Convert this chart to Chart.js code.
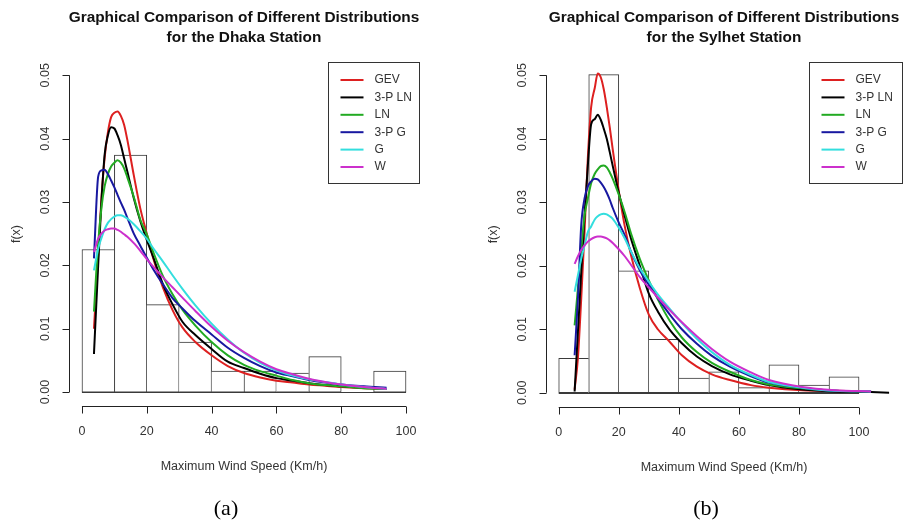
<!DOCTYPE html>
<html><head><meta charset="utf-8">
<script src="https://cdn.jsdelivr.net/npm/chart.js@4.4.1/dist/chart.umd.min.js"></script>
<style>
html,body{margin:0;padding:0;background:#fff;width:903px;height:525px;overflow:hidden}
canvas{position:absolute;top:0}
#c1{left:0}
#c2{left:450px}
</style></head>
<body>
<canvas id="c1" width="450" height="525"></canvas>
<canvas id="c2" width="453" height="525"></canvas>
<script>
// ---- data ----
const seriesNames = ['GEV', '3-P LN', 'LN', '3-P G', 'G', 'W'];
const binMids = [5, 15, 25, 35, 45, 55, 65, 75, 85, 95];
const xTicks = [0, 20, 40, 60, 80, 100];
const yTicks = [0, 0.01, 0.02, 0.03, 0.04, 0.05];
const yTickLabels = ['0.00', '0.01', '0.02', '0.03', '0.04', '0.05'];

// Dhaka station
const dhakaDensity = [0.0225, 0.0374, 0.0138, 0.0079, 0.0033, 0.0033, 0.0030, 0.0056, 0, 0.0033];
const dhakaX   = [3.7, 5, 6, 7, 8, 9, 10, 11, 12, 13, 14, 16, 18, 20, 22, 25, 28, 31, 35, 40, 45, 50, 55, 60, 65, 70, 75, 80, 87, 94];
const dhakaGEV = [0.0100, 0.0216, 0.0305, 0.0370, 0.0410, 0.0434, 0.0441, 0.0443, 0.0436, 0.0422, 0.0398, 0.0342, 0.0290, 0.0250, 0.0211, 0.0165, 0.0129, 0.0102, 0.0079, 0.0058, 0.0041, 0.0030, 0.0023, 0.0018, 0.0015, 0.0012, 0.0010, 0.0008, 0.0006, 0.0005];
const dhakaLN3 = [0.0060, 0.0200, 0.0300, 0.0375, 0.0405, 0.0418, 0.0416, 0.0405, 0.0390, 0.0369, 0.0348, 0.0306, 0.0270, 0.0240, 0.0213, 0.0170, 0.0138, 0.0111, 0.0090, 0.0068, 0.0048, 0.0038, 0.0029, 0.0022, 0.0018, 0.0014, 0.0011, 0.0009, 0.0007, 0.0005];
const dhakaLN  = [0.0127, 0.0235, 0.0290, 0.0325, 0.0344, 0.0356, 0.0362, 0.0366, 0.0362, 0.0353, 0.0339, 0.0308, 0.0272, 0.0249, 0.0221, 0.0183, 0.0154, 0.0130, 0.0105, 0.0079, 0.0058, 0.0043, 0.0033, 0.0026, 0.0019, 0.0014, 0.0011, 0.0009, 0.0006, 0.0005];
const dhakaG3  = [0.0211, 0.0340, 0.0350, 0.0351, 0.0344, 0.0334, 0.0323, 0.0311, 0.0299, 0.0288, 0.0275, 0.0250, 0.0231, 0.0212, 0.0194, 0.0170, 0.0148, 0.0132, 0.0112, 0.0091, 0.0070, 0.0054, 0.0041, 0.0031, 0.0025, 0.0019, 0.0015, 0.0012, 0.0009, 0.0007];
const dhakaG   = [0.0192, 0.0226, 0.0243, 0.0257, 0.0267, 0.0273, 0.0277, 0.0279, 0.0279, 0.0277, 0.0274, 0.0265, 0.0254, 0.0242, 0.0227, 0.0206, 0.0184, 0.0163, 0.0137, 0.0108, 0.0083, 0.0062, 0.0046, 0.0034, 0.0026, 0.0020, 0.0016, 0.0012, 0.0008, 0.0005];
const dhakaW   = [0.0221, 0.0242, 0.0250, 0.0255, 0.0257, 0.0258, 0.0258, 0.0256, 0.0253, 0.0249, 0.0245, 0.0235, 0.0223, 0.0210, 0.0198, 0.0181, 0.0165, 0.0149, 0.0128, 0.0103, 0.0081, 0.0063, 0.0048, 0.0036, 0.0028, 0.0021, 0.0016, 0.0012, 0.0008, 0.0005];

// Sylhet station
const sylhetDensity = [0.0054, 0.0501, 0.0192, 0.0084, 0.0023, 0.0033, 0.0008, 0.0044, 0.0012, 0.0025];
const sylhetX   = [5.3, 6.4, 7.5, 8.6, 9.7, 10.8, 12, 13, 14, 15, 16, 17, 18, 20, 22, 24, 27, 30, 33, 37, 41, 46, 51, 57, 64, 70, 81, 92, 104, 110];
const sylhetGEV = [0.0005, 0.0055, 0.0148, 0.0253, 0.0370, 0.0450, 0.0480, 0.0503, 0.0497, 0.0478, 0.0450, 0.0418, 0.0383, 0.0318, 0.0262, 0.0218, 0.0165, 0.0123, 0.0100, 0.0080, 0.0059, 0.0041, 0.0029, 0.0020, 0.0012, 0.0008, 0.0004, 0.0003, 0.0002, null];
const sylhetLN3 = [0.0002, 0.0096, 0.0190, 0.0279, 0.0358, 0.0423, 0.0431, 0.0438, 0.0430, 0.0416, 0.0400, 0.0379, 0.0357, 0.0315, 0.0278, 0.0244, 0.0200, 0.0156, 0.0128, 0.0099, 0.0078, 0.0057, 0.0042, 0.0029, 0.0019, 0.0012, 0.0005, 0.0002, 0.0001, 0.0000];
const sylhetLN  = [0.0106, 0.0165, 0.0225, 0.0279, 0.0306, 0.0330, 0.0345, 0.0352, 0.0357, 0.0358, 0.0355, 0.0347, 0.0337, 0.0312, 0.0284, 0.0252, 0.0211, 0.0177, 0.0147, 0.0113, 0.0087, 0.0064, 0.0047, 0.0033, 0.0020, 0.0013, 0.0007, 0.0003, 0.0002, null];
const sylhetG3  = [0.0059, 0.0148, 0.0264, 0.0306, 0.0325, 0.0333, 0.0337, 0.0336, 0.0331, 0.0324, 0.0315, 0.0304, 0.0291, 0.0268, 0.0248, 0.0223, 0.0193, 0.0170, 0.0149, 0.0123, 0.0100, 0.0077, 0.0058, 0.0041, 0.0026, 0.0016, 0.0008, 0.0003, 0.0002, null];
const sylhetG   = [0.0159, 0.0185, 0.0211, 0.0232, 0.0253, 0.0262, 0.0273, 0.0278, 0.0281, 0.0282, 0.0281, 0.0278, 0.0274, 0.0260, 0.0243, 0.0223, 0.0196, 0.0175, 0.0155, 0.0132, 0.0110, 0.0085, 0.0064, 0.0044, 0.0028, 0.0017, 0.0008, 0.0003, 0.0002, null];
const sylhetW   = [0.0203, 0.0215, 0.0225, 0.0232, 0.0238, 0.0242, 0.0245, 0.0246, 0.0246, 0.0245, 0.0243, 0.0240, 0.0236, 0.0226, 0.0215, 0.0202, 0.0182, 0.0166, 0.0150, 0.0130, 0.0111, 0.0089, 0.0069, 0.0049, 0.0032, 0.0020, 0.0009, 0.0004, 0.0002, null];

// ---- styles ----
const seriesColors = ['#dd2020', '#000000', '#22aa22', '#1818a0', '#33dede', '#cc30cc'];
const FONT = '"Liberation Sans", Arial, sans-serif';
const TXT = '#333333';

function makePanel(id, p) {
  const d = p.density, last = d.length - 1;
  const datasets = [{
    type: 'bar',
    data: binMids.map((m, i) => ({x: m, y: d[i]})),
    backgroundColor: '#ffffff',
    borderColor: '#3a3a3a',
    borderWidth: c => {
      const i = c.dataIndex;
      return {
        top: 1, bottom: 1,
        left: (i === 0 || d[i - 1] <= d[i]) ? 1 : 0,
        right: (i === last || d[i + 1] < d[i]) ? 1 : 0
      };
    },
    borderSkipped: false,
    barPercentage: 1,
    categoryPercentage: 1,
    order: 100
  }];
  p.curves.forEach((vals, k) => {
    datasets.push({
      type: 'line',
      label: seriesNames[k],
      data: p.x.map((xv, i) => ({x: xv, y: vals[i]})),
      borderColor: seriesColors[k],
      borderWidth: 2,
      pointRadius: 0,
      fill: false,
      cubicInterpolationMode: 'monotone',
      spanGaps: false,
      order: 6 - k
    });
  });

  const deco = {
    id: 'rstyle',
    afterDraw(chart) {
      const ctx = chart.ctx, xs = chart.scales.x, ys = chart.scales.y, a = chart.chartArea;
      ctx.save();
      // histogram baseline
      ctx.strokeStyle = '#3a3a3a'; ctx.lineWidth = 1;
      ctx.beginPath();
      const by = Math.round(ys.getPixelForValue(0)) + 0.5;
      ctx.moveTo(xs.getPixelForValue(0), by); ctx.lineTo(xs.getPixelForValue(100), by);
      ctx.stroke();

      ctx.strokeStyle = '#222222';
      // y axis
      const yx = Math.round(a.left) + 0.5;
      ctx.beginPath();
      ctx.moveTo(yx, ys.getPixelForValue(yTicks[0]));
      ctx.lineTo(yx, ys.getPixelForValue(yTicks[yTicks.length - 1]));
      yTicks.forEach(v => { const py = Math.round(ys.getPixelForValue(v)) + 0.5; ctx.moveTo(yx, py); ctx.lineTo(yx - 7, py); });
      // x axis
      const xy = Math.round(a.bottom) + 0.5;
      ctx.moveTo(xs.getPixelForValue(xTicks[0]), xy);
      ctx.lineTo(xs.getPixelForValue(xTicks[xTicks.length - 1]), xy);
      xTicks.forEach(v => { const px = Math.round(xs.getPixelForValue(v)) + 0.5; ctx.moveTo(px, xy); ctx.lineTo(px, xy + 7); });
      ctx.stroke();

      ctx.fillStyle = TXT;
      ctx.font = '12.5px ' + FONT;
      ctx.textAlign = 'center'; ctx.textBaseline = 'middle';
      yTicks.forEach((v, i) => {
        ctx.save();
        ctx.translate(a.left - 23.5, ys.getPixelForValue(v));
        ctx.rotate(-Math.PI / 2);
        ctx.fillText(yTickLabels[i], 0, 0);
        ctx.restore();
      });
      xTicks.forEach(v => ctx.fillText(String(v), xs.getPixelForValue(v), a.bottom + 26));
      const cx = (a.left + a.right) / 2;
      ctx.fillText('Maximum Wind Speed (Km/h)', cx, a.bottom + 61);
      ctx.save();
      ctx.translate(a.left - 52, (a.top + a.bottom) / 2);
      ctx.rotate(-Math.PI / 2);
      ctx.fillText('f(x)', 0, 0);
      ctx.restore();

      // title
      ctx.fillStyle = '#111111';
      ctx.font = 'bold 15.4px ' + FONT;
      ctx.fillText(p.title[0], cx, 18);
      ctx.fillText(p.title[1], cx, 38);

      // legend
      const bw = p.legendW, bh = 121;
      const bx = Math.round(a.right - bw) + 0.5, bt = Math.round(a.top) + 0.5;
      ctx.fillStyle = '#ffffff';
      ctx.fillRect(bx, bt, bw, bh);
      ctx.strokeStyle = '#333333'; ctx.lineWidth = 1;
      ctx.strokeRect(bx, bt, bw, bh);
      ctx.font = '12px ' + FONT;
      ctx.textAlign = 'left';
      seriesNames.forEach((n, k) => {
        const ry = a.top + 18 + k * 17.4;
        ctx.strokeStyle = seriesColors[k]; ctx.lineWidth = 2;
        ctx.beginPath(); ctx.moveTo(bx + 12, ry); ctx.lineTo(bx + 35, ry); ctx.stroke();
        ctx.fillStyle = TXT;
        ctx.fillText(n, bx + 46, ry);
      });

      // caption
      ctx.fillStyle = '#000000';
      ctx.textAlign = 'center';
      ctx.font = '22px "Liberation Serif", "Times New Roman", serif';
      ctx.fillText(p.caption, p.captionX, 509);
      ctx.restore();
    }
  };

  return new Chart(document.getElementById(id), {
    type: 'bar',
    data: {datasets},
    options: {
      responsive: false,
      animation: false,
      events: [],
      layout: {padding: p.padding},
      plugins: {legend: {display: false}, tooltip: {enabled: false}, title: {display: false}},
      scales: {
        x: {type: 'linear', min: p.xMin, max: p.xMax, offset: false, display: false},
        y: {type: 'linear', min: -0.0022, max: 0.0521, display: false}
      }
    },
    plugins: [deco]
  });
}

makePanel('c1', {
  density: dhakaDensity, x: dhakaX,
  curves: [dhakaGEV, dhakaLN3, dhakaLN, dhakaG3, dhakaG, dhakaW],
  title: ['Graphical Comparison of Different Distributions', 'for the Dhaka Station'],
  caption: '(a)', captionX: 226,
  xMin: -4, xMax: 104, legendW: 91,
  padding: {left: 69, right: 31, top: 62, bottom: 119}
});
makePanel('c2', {
  density: sylhetDensity, x: sylhetX,
  curves: [sylhetGEV, sylhetLN3, sylhetLN, sylhetG3, sylhetG, sylhetW],
  title: ['Graphical Comparison of Different Distributions', 'for the Sylhet Station'],
  caption: '(b)', captionX: 256,
  xMin: -4.33, xMax: 114.4, legendW: 93,
  padding: {left: 95.7, right: 0.7, top: 62, bottom: 118.3}
});
</script>
</body></html>
